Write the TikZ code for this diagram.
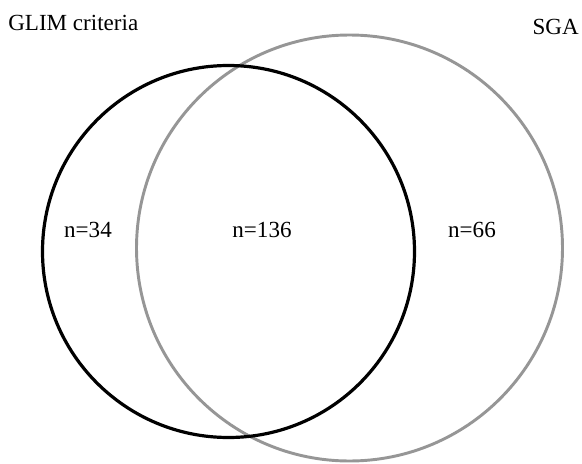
\documentclass[tikz,border=0pt]{standalone}
\usepackage{fontspec}
\setmainfont{Liberation Serif}
\definecolor{vgray}{RGB}{150,150,150}
\begin{document}
\begin{tikzpicture}[x=0.75pt,y=-0.75pt,
  lbl/.style={font=\fontsize{17.3}{20}\selectfont, inner sep=0pt, anchor=base},
  setA/.style={draw=black, line width=2.4pt},
  setB/.style={draw=vgray, line width=2.2pt}]
\useasboundingbox (0,0) rectangle (582,464);
\node[setB, circle, minimum size=319.5pt, inner sep=0pt] (sga) at (349.5,248) {};
\node[setA, circle, minimum size=279pt, inner sep=0pt] (glim) at (228.5,251.5) {};
\node[lbl, anchor=base west] (tglim) at (8,30) {GLIM criteria};
\node[lbl, anchor=base east] (tsga) at (579,34) {SGA};
\node[lbl] (n34) at (88,237) {n=34};
\node[lbl] (n136) at (262,237) {n=136};
\node[lbl] (n66) at (472,237) {n=66};
\end{tikzpicture}
\end{document}
